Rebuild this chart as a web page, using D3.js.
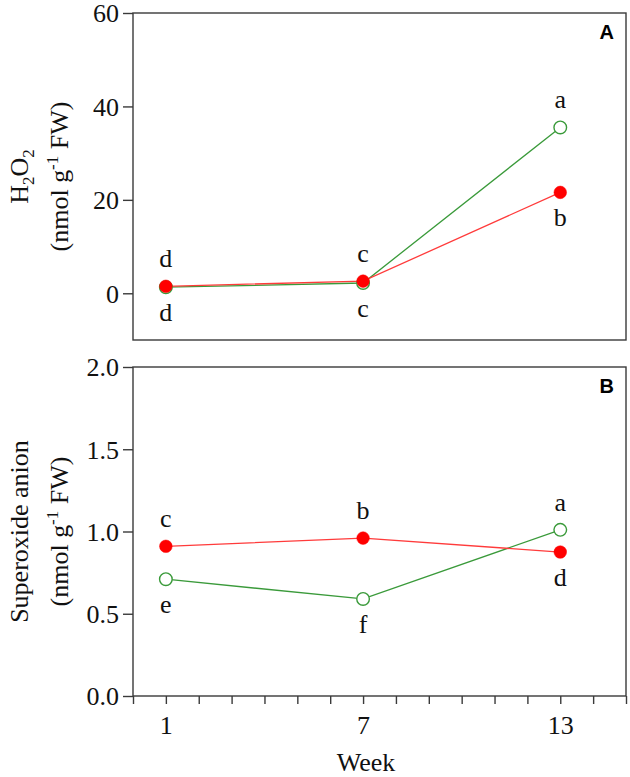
<!DOCTYPE html>
<html>
<head>
<meta charset="utf-8">
<script src="https://cdn.jsdelivr.net/npm/d3@7"></script>
<style>
  html, body { margin: 0; padding: 0; background: #fff; }
  svg { display: block; }
</style>
</head>
<body>
<script>
// ---- data ----
const weeks = [1, 7, 13];
const h2o2Red = [1.5, 2.6, 21.6];
const h2o2Green = [1.3, 2.2, 35.5];
const h2o2RedLetters = ["d", "c", "b"];
const h2o2GreenLetters = ["d", "c", "a"];
const supRed = [0.91, 0.96, 0.875];
const supGreen = [0.71, 0.59, 1.01];
const supRedLetters = ["c", "b", "d"];
const supGreenLetters = ["e", "f", "a"];
const xTicks = d3.range(0, 16);
const xTickLabels = [1, 7, 13];
const yTicksA = [0, 20, 40, 60];
const yTicksB = [0.0, 0.5, 1.0, 1.5, 2.0];

// ---- layout ----
const W = 630, H = 777;
const left = 133, right = 626;
const A = { top: 13, bottom: 340 };
const B = { top: 367, bottom: 696 };
const fs = 26;
const FONT = "Liberation Serif, DejaVu Serif, Noto Serif, serif";
const axisColor = "#3a3a3a";
const red = "#ff0000", redLine = "#ff3b3b", green = "#3a9a3a";

const svg = d3.select("body").append("svg").attr("width", W).attr("height", H);

const x = d3.scaleLinear().domain([0, 15]).range([left, right]);
const yA = d3.scaleLinear().domain([-10, 60]).range([A.bottom, A.top]);
const yB = d3.scaleLinear().domain([0, 2]).range([B.bottom, B.top]);

function styleText(sel, size) {
  sel.attr("font-family", FONT).style("font-family", FONT)
    .attr("font-size", size).attr("fill", "#111");
}

function panel(p, y, ticks, fmt, series, labelLines, tag, bottomAxis) {
  const g = svg.append("g");
  g.append("rect").attr("x", left).attr("y", p.top)
    .attr("width", right - left).attr("height", p.bottom - p.top)
    .attr("fill", "none").attr("stroke", axisColor).attr("stroke-width", 1.4);
  const ya = g.append("g").attr("transform", `translate(${left},0)`)
    .call(d3.axisLeft(y).tickValues(ticks).tickFormat(fmt).tickSize(10).tickPadding(4));
  ya.attr("font-family", FONT);
  ya.select(".domain").remove();
  ya.selectAll(".tick line").attr("stroke", axisColor).attr("stroke-width", 1.4);
  styleText(ya.selectAll(".tick text"), fs);
  ya.selectAll(".tick text").attr("dy", "0.34em");
  if (bottomAxis) {
    const xa = g.append("g").attr("transform", `translate(0,${p.bottom})`)
      .call(d3.axisBottom(x).tickValues(xTicks)
        .tickFormat(d => xTickLabels.includes(d) ? d : "").tickSize(8).tickPadding(12));
    xa.attr("font-family", FONT);
    xa.select(".domain").remove();
    xa.selectAll(".tick line").attr("stroke", axisColor).attr("stroke-width", 1.4);
    styleText(xa.selectAll(".tick text"), fs);
    xa.selectAll(".tick text").attr("dy", "0.71em");
  }
  series.forEach(s => {
    const pts = weeks.map((w, i) => [x(w), y(s.values[i])]);
    g.append("path").attr("d", d3.line()(pts)).attr("fill", "none")
      .attr("stroke", s.line).attr("stroke-width", 1.3);
  });
  series.forEach(s => {
    g.selectAll(null).data(weeks).enter().append("circle")
      .attr("cx", d => x(d)).attr("cy", (d, i) => y(s.values[i])).attr("r", 6.3)
      .attr("fill", s.filled ? s.color : "#fff")
      .attr("stroke", s.color).attr("stroke-width", s.filled ? 0.5 : 1.4);
  });
  series.forEach(s => {
    const t = g.selectAll(null).data(weeks).enter().append("text")
      .attr("x", d => x(d))
      .attr("y", (d, i) => y(s.values[i]) + (s.pos[i] === "above" ? -19 : 34))
      .attr("text-anchor", "middle").text((d, i) => s.letters[i]);
    styleText(t, fs);
  });
  g.append("text").attr("x", 614).attr("y", p.top + 26).attr("text-anchor", "end")
    .style("font-family", "Liberation Sans, Arial, sans-serif").attr("font-weight", "bold")
    .attr("font-size", 20).attr("fill", "#000").text(tag);
  const cy = (p.top + p.bottom) / 2;
  labelLines.forEach((parts, li) => {
    const t = g.append("text")
      .attr("transform", `translate(${li === 0 ? 28 : 68},${cy}) rotate(-90)`)
      .attr("text-anchor", "middle");
    styleText(t, fs);
    parts.forEach(pt => {
      const ts = t.append("tspan").text(pt.t);
      if (pt.sub) ts.attr("font-size", 17).attr("dy", 6);
      else if (pt.sup) ts.attr("font-size", 17).attr("dy", -10);
      if (pt.back) ts.attr("dy", pt.back);
    });
  });
}

panel(A, yA, yTicksA, d3.format("d"),
  [
    { values: h2o2Green, color: green, line: green, filled: false, letters: h2o2GreenLetters, pos: ["below", "below", "above"] },
    { values: h2o2Red, color: red, line: redLine, filled: true, letters: h2o2RedLetters, pos: ["above", "above", "below"] }
  ],
  [
    [{ t: "H" }, { t: "2", sub: true }, { t: "O", back: -6 }, { t: "2", sub: true }],
    [{ t: "(nmol g" }, { t: "-1", sup: true }, { t: " FW)", back: 10 }]
  ], "A", false);

panel(B, yB, yTicksB, d3.format(".1f"),
  [
    { values: supGreen, color: green, line: green, filled: false, letters: supGreenLetters, pos: ["below", "below", "above"] },
    { values: supRed, color: red, line: redLine, filled: true, letters: supRedLetters, pos: ["above", "above", "below"] }
  ],
  [
    [{ t: "Superoxide anion" }],
    [{ t: "(nmol g" }, { t: "-1", sup: true }, { t: " FW)", back: 10 }]
  ], "B", true);

const wl = svg.append("text").attr("x", 366).attr("y", 771).attr("text-anchor", "middle").text("Week");
styleText(wl, fs);
</script>
</body>
</html>
